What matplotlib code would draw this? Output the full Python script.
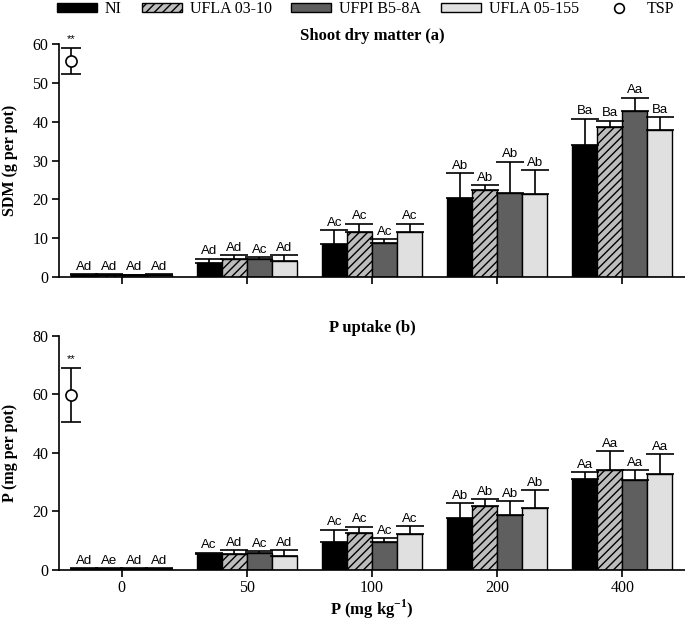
import matplotlib
matplotlib.use("Agg")
import matplotlib.pyplot as plt
from matplotlib.patches import Patch
from matplotlib.lines import Line2D
import numpy as np

plt.rcParams['font.family'] = ['Liberation Serif', 'DejaVu Serif']
plt.rcParams['mathtext.fontset'] = 'custom'
plt.rcParams['mathtext.rm'] = 'Liberation Serif'
plt.rcParams['mathtext.bf'] = 'Liberation Serif:bold'

# doses de P
doses = ["0", "50", "100", "200", "400"]
series = ["NI", "UFLA 03-10", "UFPI B5-8A", "UFLA 05-155"]

# materia seca (a)
sdm_ni = [0.6, 3.6, 8.6, 20.3, 34.1]
sdm_ufla0310 = [0.6, 4.7, 11.5, 22.3, 38.6]
sdm_ufpi = [0.5, 4.7, 8.7, 21.6, 42.8]
sdm_ufla05155 = [0.6, 4.1, 11.5, 21.3, 37.9]
sdm_err_ni = [0.1, 1.1, 3.5, 6.4, 6.7]
sdm_err_ufla0310 = [0.1, 0.9, 2.3, 1.3, 1.7]
sdm_err_ufpi = [0.1, 0.4, 1.1, 8.1, 3.4]
sdm_err_ufla05155 = [0.1, 1.5, 2.3, 6.3, 3.3]
sdm_lab_ni = ["Ad", "Ad", "Ac", "Ab", "Ba"]
sdm_lab_ufla0310 = ["Ad", "Ad", "Ac", "Ab", "Ba"]
sdm_lab_ufpi = ["Ad", "Ac", "Ac", "Ab", "Aa"]
sdm_lab_ufla05155 = ["Ad", "Ad", "Ac", "Ab", "Ba"]
sdm_tsp, sdm_tsp_err = 55.6, 3.4

# absorcion de P (b)
pu_ni = [0.4, 5.5, 9.5, 17.8, 30.9]
pu_ufla0310 = [0.4, 5.3, 12.7, 22.0, 34.2]
pu_ufpi = [0.4, 5.7, 9.4, 18.8, 30.8]
pu_ufla05155 = [0.4, 4.6, 12.4, 21.0, 32.9]
pu_err_ni = [0.1, 0.3, 4.2, 5.0, 2.5]
pu_err_ufla0310 = [0.1, 1.3, 2.0, 2.1, 6.4]
pu_err_ufpi = [0.1, 0.6, 1.4, 4.7, 3.3]
pu_err_ufla05155 = [0.1, 2.2, 2.5, 6.2, 6.6]
pu_lab_ni = ["Ad", "Ac", "Ac", "Ab", "Aa"]
pu_lab_ufla0310 = ["Ae", "Ad", "Ac", "Ab", "Aa"]
pu_lab_ufpi = ["Ad", "Ac", "Ac", "Ab", "Aa"]
pu_lab_ufla05155 = ["Ad", "Ad", "Ac", "Ab", "Aa"]
pu_tsp, pu_tsp_err = 59.8, 9.2

colores = ["#000000", "#bdbdbd", "#5f5f5f", "#e0e0e0"]
tramas = [None, "////", None, None]

fig = plt.figure(figsize=(6.85, 6.2), dpi=100)
ax1 = fig.add_axes([0.086, 0.553, 0.914, 0.376])
ax2 = fig.add_axes([0.086, 0.081, 0.914, 0.377])

x = np.arange(len(doses))
w = 0.2


def panel(ax, medias, errores, letras, tsp, tsp_err, ymax, paso, titulo, ylab):
    for i in range(4):
        pos = x + (i - 1.5) * w
        ax.bar(pos, medias[i], w, color=colores[i], edgecolor="black",
               linewidth=1.0, hatch=tramas[i], zorder=2)
        ax.errorbar(pos, medias[i], yerr=[np.zeros(5), errores[i]], fmt="none",
                    ecolor="black", elinewidth=1.2, capsize=10, capthick=1.2, zorder=3)
        for p, m, e, t in zip(pos, medias[i], errores[i], letras[i]):
            ax.annotate(t, (p, m + e), xytext=(0, 1), textcoords="offset points",
                        ha="center", va="bottom", fontsize=9.5, family="Liberation Sans")
    ax.errorbar([-0.4], [tsp], yerr=[tsp_err], fmt="o", ms=8, mfc="white",
                mec="black", mew=1.2, ecolor="black", elinewidth=1.2,
                capsize=7, capthick=1.2, zorder=4)
    ax.annotate("**", (-0.4, tsp + tsp_err), xytext=(0, 3), textcoords="offset points",
                ha="center", va="bottom", fontsize=8, family="Liberation Sans")
    ax.set_xlim(-0.5, 4.5)
    ax.set_ylim(0, ymax)
    ax.set_yticks(np.arange(0, ymax + 1, paso))
    ax.set_xticks(x)
    ax.spines["top"].set_visible(False)
    ax.spines["right"].set_visible(False)
    ax.spines["left"].set_linewidth(1.2)
    ax.spines["bottom"].set_linewidth(1.2)
    ax.tick_params(width=1.2, length=5, labelsize=11.5, pad=2.5)
    ax.set_title(titulo, fontweight="bold", fontsize=12, pad=2)
    ax.set_ylabel(ylab, fontweight="bold", fontsize=11.5)
    ax.yaxis.set_label_coords(-0.066, 0.5)


panel(ax1, [sdm_ni, sdm_ufla0310, sdm_ufpi, sdm_ufla05155],
      [sdm_err_ni, sdm_err_ufla0310, sdm_err_ufpi, sdm_err_ufla05155],
      [sdm_lab_ni, sdm_lab_ufla0310, sdm_lab_ufpi, sdm_lab_ufla05155],
      sdm_tsp, sdm_tsp_err, 60, 10, "Shoot dry matter (a)", "SDM (g per pot)")
ax1.set_xticklabels([])

panel(ax2, [pu_ni, pu_ufla0310, pu_ufpi, pu_ufla05155],
      [pu_err_ni, pu_err_ufla0310, pu_err_ufpi, pu_err_ufla05155],
      [pu_lab_ni, pu_lab_ufla0310, pu_lab_ufpi, pu_lab_ufla05155],
      pu_tsp, pu_tsp_err, 80, 20, "P uptake (b)", "P (mg per pot)")
ax2.set_xticklabels(doses)
ax2.set_xlabel("P (mg kg$^{\\mathbf{-1}}$)", fontweight="bold", fontsize=12, labelpad=1)

# leyenda superior
handles = [Patch(facecolor=colores[i], edgecolor="black", hatch=tramas[i]) for i in range(4)]
handles.append(Line2D([], [], marker="o", ls="none", mfc="white", mec="black", mew=1.2, ms=7))
fig.legend(handles, series + ["TSP"], loc="upper left", ncol=5, frameon=False,
           fontsize=11.5, handlelength=2.5, handleheight=0.5, handletextpad=0.5,
           columnspacing=1.25, borderpad=0, borderaxespad=0,
           bbox_to_anchor=(0.083, 0.998))

fig.savefig("out.png", dpi=100)
